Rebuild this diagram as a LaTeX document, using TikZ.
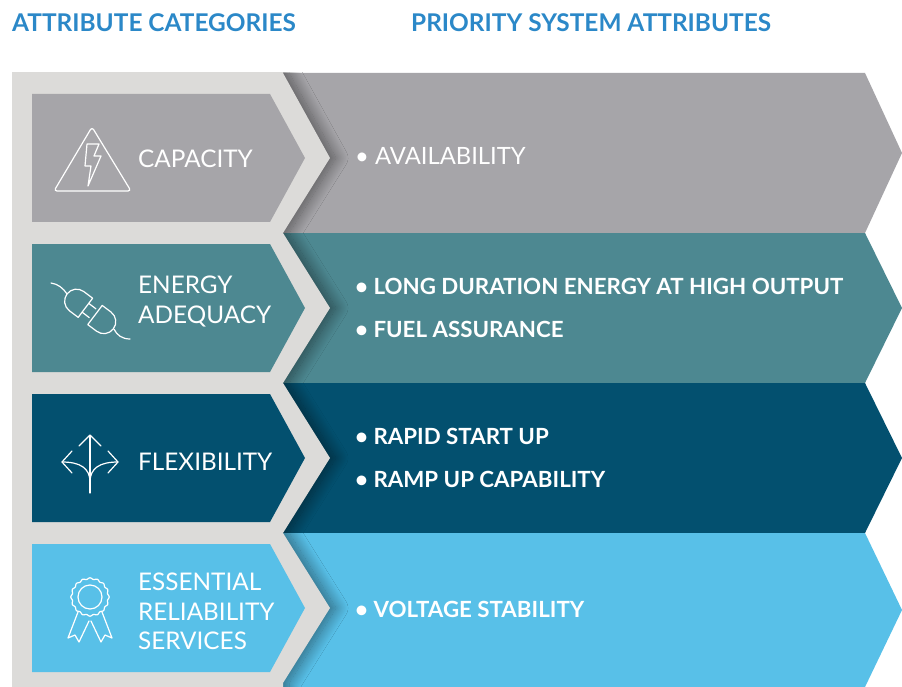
\documentclass[tikz,border=0pt]{standalone}
\usepackage{fontspec}
\setmainfont{Lato}
\usetikzlibrary{shadows.blur}
\definecolor{ttlblue}{HTML}{2B88C8}
\definecolor{panel}{HTML}{DCDBD9}
\definecolor{cgray}{HTML}{A6A5A9}
\definecolor{cteal}{HTML}{4D8891}
\definecolor{cdark}{HTML}{03506F}
\definecolor{clight}{HTML}{58C0E8}
\begin{document}
\begin{tikzpicture}[x=1pt,y=-1pt,
  cat/.style={text=white, font=\fontsize{24.3}{30}\selectfont, anchor=base west, inner sep=0pt},
  attr/.style={text=white, font=\bfseries\fontsize{22.3}{26}\selectfont, anchor=base west, inner sep=0pt},
  attrreg/.style={text=white, font=\fontsize{23.8}{26}\selectfont, anchor=base west, inner sep=0pt},
  ttl/.style={text=ttlblue, font=\bfseries\fontsize{24.4}{26}\selectfont, anchor=base west, inner sep=0pt},
  icon/.style={draw=white, line width=1.2pt, line join=round, line cap=round}]
\useasboundingbox (0,0) rectangle (902,687);
\fill[white] (0,0) rectangle (902,687);
% titles
\node[ttl] (t1) at (12,32) {ATTRIBUTE CATEGORIES};
\node[ttl] (t2) at (411,32) {PRIORITY SYSTEM ATTRIBUTES};
% big bands
\fill[cgray]  (250,73)  -- (865,73)  -- (902,153) -- (865,233) -- (250,233) -- cycle;
\fill[cteal]  (250,233) -- (865,233) -- (902,308) -- (865,383) -- (250,383) -- cycle;
\fill[cdark]  (250,383) -- (865,383) -- (902,458) -- (865,533) -- (250,533) -- cycle;
\fill[clight] (250,533) -- (865,533) -- (902,610) -- (865,687) -- (250,687) -- cycle;
% panel with shadow cast on the bands only
\begin{scope}
  \clip (12,73) rectangle (902,700);
  \fill[panel, blur shadow={shadow xshift=6pt, shadow yshift=0pt, shadow blur radius=12pt, shadow blur steps=24, shadow opacity=45}]
    (0,60) -- (283,60) -- (283,73) -- (330,158) -- (283,233) -- (330,308) -- (283,383) -- (330,458)
    -- (283,533) -- (330,608) -- (283,683) -- (283,710) -- (0,710) -- cycle;
\end{scope}
% small boxes
\fill[cgray]  (32,94)  -- (270,94)  -- (305,158) -- (270,222) -- (32,222) -- cycle;
\fill[cteal]  (32,244) -- (270,244) -- (305,308) -- (270,372) -- (32,372) -- cycle;
\fill[cdark]  (32,394) -- (270,394) -- (305,458) -- (270,522) -- (32,522) -- cycle;
\fill[clight] (32,544) -- (270,544) -- (305,608) -- (270,672) -- (32,672) -- cycle;
% category labels
\node[cat] (capacity) at (138,168) {CAPACITY};
\node[cat] (energy1) at (138,293) {ENERGY};
\node[cat] (energy2) at (138,323) {ADEQUACY};
\node[cat] (flex) at (138,470) {FLEXIBILITY};
\node[cat] (ess1) at (138,590) {ESSENTIAL};
\node[cat] (ess2) at (138,620) {RELIABILITY};
\node[cat] (ess3) at (138,649) {SERVICES};
% attributes
\node[attrreg] (a1) at (355,165) {\textbullet\ AVAILABILITY};
\node[attr] (a2) at (355,294) {\textbullet\ LONG DURATION ENERGY AT HIGH OUTPUT};
\node[attr] (a3) at (355,337) {\textbullet\ FUEL ASSURANCE};
\node[attr] (a4) at (355,444) {\textbullet\ RAPID START UP};
\node[attr] (a5) at (355,487) {\textbullet\ RAMP UP CAPABILITY};
\node[attr] (a6) at (355,617) {\textbullet\ VOLTAGE STABILITY};
% icon: capacity
\draw[icon, rounded corners=3pt] (92,127) -- (131,191) -- (54,191) -- cycle;
\draw[icon] (87,144) -- (99,144) -- (94,156) -- (101,156) -- (88,186) -- (91,166) -- (85,166) -- cycle;
% icon: plug
\begin{scope}[shift={(91,312)}, x={(0.799pt,-0.602pt)}, y={(0.602pt,0.799pt)}]
  \draw[icon] (-7,12) -- (-18,12) arc[start angle=90, end angle=270, radius=12] -- (-7,-12) -- cycle;
  \draw[icon] (-7,5.5) -- (2,5.5) (-7,-5.5) -- (2,-5.5);
  \draw[icon] (5,12) -- (16,12) arc[start angle=90, end angle=-90, radius=12] -- (5,-12) -- cycle;
\end{scope}
\draw[icon] (67.0,293.9) .. controls (63,288) and (58,284) .. (51,283);
\draw[icon] (114.2,329.5) .. controls (117,335) and (122,339) .. (130,339);
% icon: flexibility
\draw[icon] (90,493) -- (90,436);
\draw[icon] (79,446) -- (90,435) -- (101,446);
\draw[icon] (62,462) .. controls (80,462) and (90,468) .. (90,482);
\draw[icon] (118,462) .. controls (100,462) and (90,468) .. (90,482);
\draw[icon] (72,451) -- (62,462) -- (72,473);
\draw[icon] (108,451) -- (118,462) -- (108,473);
% icon: ribbon
\draw[icon] plot[domain=0:360, samples=145, smooth] ({90+(18.5+0.7*cos(16*\x))*cos(\x)}, {597+(18.5+0.7*cos(16*\x))*sin(\x)});
\draw[icon] (90,597) circle[radius=12];
\draw[icon] (78,612) -- (68,638) -- (75,635) -- (79,642) -- (89,621);
\draw[icon] (102,612) -- (112,638) -- (105,635) -- (101,642) -- (91,621);
\end{tikzpicture}
\end{document}
